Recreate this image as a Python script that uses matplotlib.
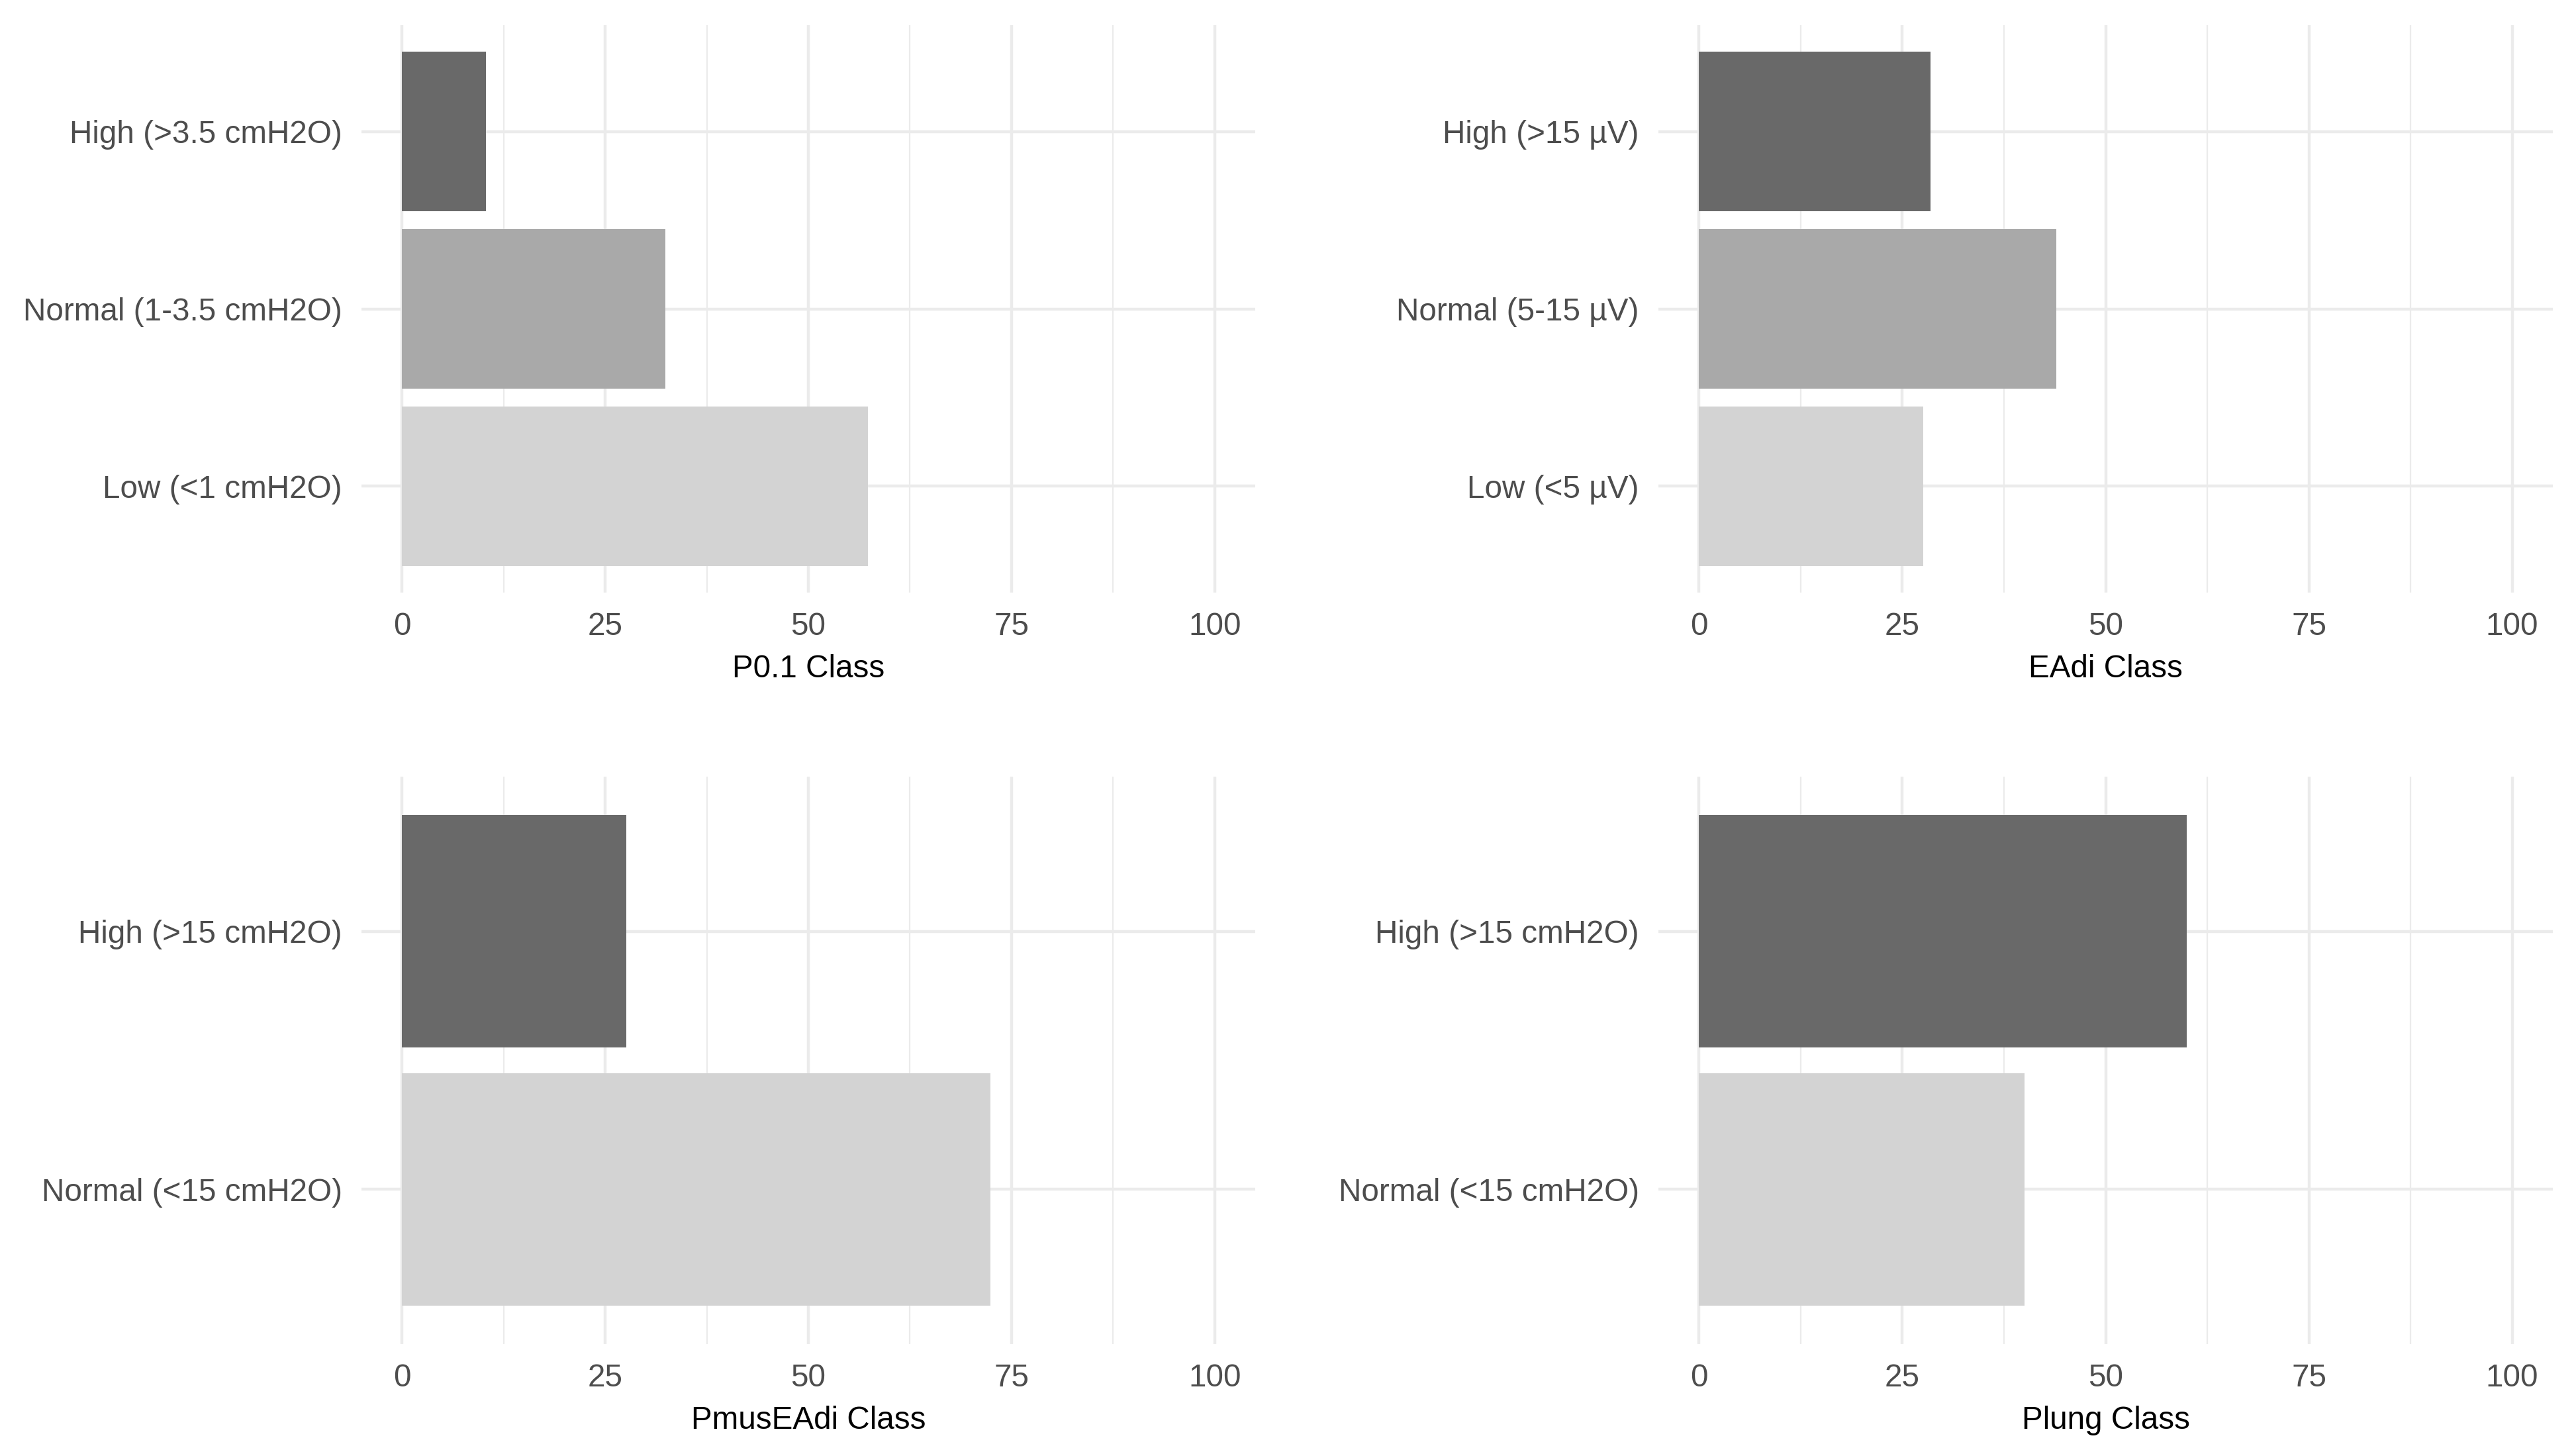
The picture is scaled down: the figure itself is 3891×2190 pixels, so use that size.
import matplotlib
matplotlib.use("Agg")
import matplotlib.pyplot as plt

plt.rcParams['font.family'] = ['Liberation Sans', 'DejaVu Sans']

# data (percent of patients in each class), bottom category first
p01_labels = ["Low (<1 cmH2O)", "Normal (1-3.5 cmH2O)", "High (>3.5 cmH2O)"]
p01_values = [57.3, 32.4, 10.3]

eadi_labels = ["Low (<5 µV)", "Normal (5-15 µV)", "High (>15 µV)"]
eadi_values = [27.6, 43.9, 28.5]

pmus_labels = ["Normal (<15 cmH2O)", "High (>15 cmH2O)"]
pmus_values = [72.4, 27.6]

plung_labels = ["Normal (<15 cmH2O)", "High (>15 cmH2O)"]
plung_values = [40.0, 60.0]

# grey scale from light to dark, as ggplot's scale_fill_grey does
grey3 = ["#D3D3D3", "#A9A9A9", "#696969"]
grey2 = ["#D3D3D3", "#696969"]
x_ticks = [0, 25, 50, 75, 100]

W, H = 3891, 2190
fig = plt.figure(figsize=(W / 300, H / 300), dpi=300)


def panel(box, labels, values, colors, title):
    x0, y0, x1, y1 = box
    ax = fig.add_axes([x0 / W, 1 - y1 / H, (x1 - x0) / W, (y1 - y0) / H])
    ys = list(range(1, len(labels) + 1))
    ax.barh(ys, values, height=0.9, color=colors, zorder=2)
    ax.set_xlim(-5, 105)
    ax.set_ylim(0.4, len(labels) + 0.6)
    ax.set_yticks(ys)
    ax.set_yticklabels(labels)
    ax.set_xticks(x_ticks)
    ax.set_xticks([12.5, 37.5, 62.5, 87.5], minor=True)
    ax.grid(which='major', color='#EBEBEB', linewidth=1.07, zorder=0)
    ax.grid(which='minor', axis='x', color='#EBEBEB', linewidth=0.55, zorder=0)
    ax.set_axisbelow(True)
    for s in ax.spines.values():
        s.set_visible(False)
    ax.tick_params(which='both', length=0, labelsize=11.45, colors='#4D4D4D', pad=7)
    ax.set_xlabel(title, fontsize=11.45, color='black', labelpad=4.5)


panel((546, 38, 1896, 895), p01_labels, p01_values, grey3, "P0.1 Class")
panel((2505, 38, 3856, 895), eadi_labels, eadi_values, grey3, "EAdi Class")
panel((546, 1173, 1896, 2030), pmus_labels, pmus_values, grey2, "PmusEAdi Class")
panel((2505, 1173, 3856, 2030), plung_labels, plung_values, grey2, "Plung Class")

fig.savefig("out.png", dpi=300, facecolor="white")
